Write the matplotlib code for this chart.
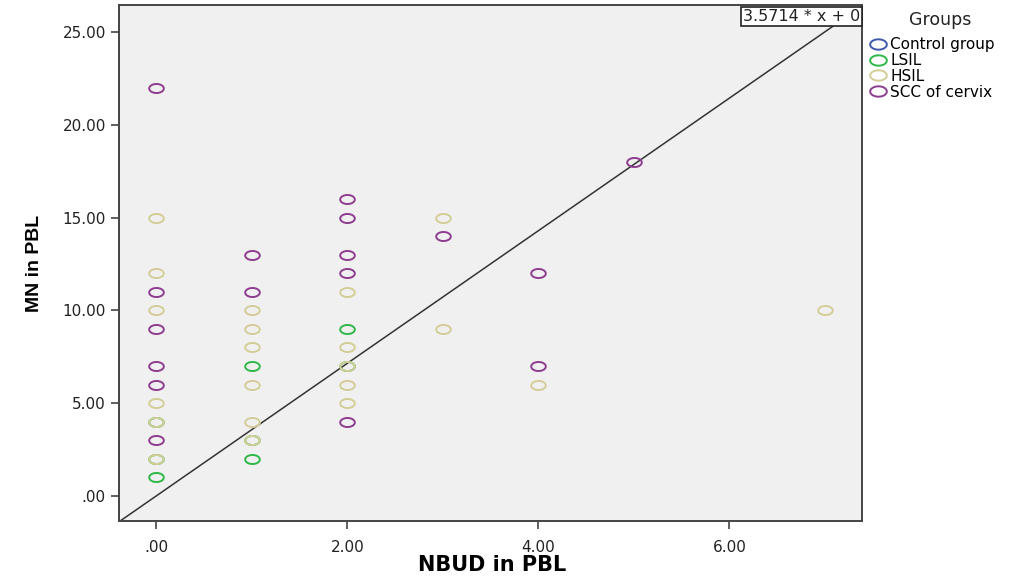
import numpy as np
import matplotlib
matplotlib.use('Agg')
import matplotlib.pyplot as plt
from matplotlib.path import Path
from matplotlib.lines import Line2D

plt.rcParams['font.family'] = ['DejaVu Sans']

groups = ['Control group', 'LSIL', 'HSIL', 'SCC of cervix']
colors = ['#3E58AC', '#2EB848', '#D3CE97', '#8E3C8F']

control_x = []
control_y = []
lsil_x = [0, 0, 0, 1, 1, 1, 2, 2]
lsil_y = [1, 2, 4, 7, 3, 2, 9, 7]
hsil_x = [0, 0, 0, 0, 0, 0, 1, 1, 1, 1, 1, 1, 2, 2, 2, 2, 2, 3, 3, 4, 7]
hsil_y = [15, 12, 10, 5, 4, 2, 10, 9, 8, 6, 4, 3, 11, 8, 7, 6, 5, 15, 9, 6, 10]
scc_x = [0, 0, 0, 0, 0, 0, 1, 1, 2, 2, 2, 2, 2, 3, 4, 4, 5]
scc_y = [22, 11, 9, 7, 6, 3, 13, 11, 16, 15, 13, 12, 4, 14, 12, 7, 18]

slope = 3.5714
xticks = [0, 2, 4, 6]
xtick_labels = ['.00', '2.00', '4.00', '6.00']
yticks = [0, 5, 10, 15, 20, 25]
ytick_labels = ['.00', '5.00', '10.00', '15.00', '20.00', '25.00']

# flattened circle marker (spss output is stretched sideways)
t = np.linspace(0, 2 * np.pi, 60)
ell = Path(np.column_stack([np.cos(t), 0.62 * np.sin(t)]), closed=True)

fig = plt.figure(figsize=(10.19, 5.79), dpi=100)
ax = fig.add_axes([0.1168, 0.1002, 0.7292, 0.8912], facecolor='#F0F0F0')

data = [(control_x, control_y), (lsil_x, lsil_y), (hsil_x, hsil_y), (scc_x, scc_y)]
for (xs, ys), c in zip(data, colors):
    ax.plot(xs, ys, linestyle='none', marker=ell, markersize=10.5,
            markerfacecolor='none', markeredgecolor=c, markeredgewidth=1.4)

ax.axline((0, 0), slope=slope, color='#333333', linewidth=1.1, zorder=1)

ax.set_xlim(-0.39, 7.39)
ax.set_ylim(-1.35, 26.45)
ax.set_xticks(xticks)
ax.set_xticklabels(xtick_labels)
ax.set_yticks(yticks)
ax.set_yticklabels(ytick_labels)
ax.tick_params(axis='both', direction='out', length=6, width=1.2,
               color='#444444', labelsize=11, labelcolor='#222222')
ax.tick_params(axis='x', pad=8)
for s in ax.spines.values():
    s.set_color('#444444')
    s.set_linewidth(1.4)

ax.set_xlabel('NBUD in PBL', fontsize=15, fontweight='bold', va='center')
ax.xaxis.set_label_coords(0.502, -0.085)
ax.set_ylabel('MN in PBL', fontsize=14, fontweight='bold', labelpad=14,
              family=['Liberation Sans', 'DejaVu Sans'])

ax.text(0.997, 0.993, '3.5714 * x + 0', transform=ax.transAxes, ha='right', va='top',
        fontsize=11.5, color='#222222',
        bbox=dict(boxstyle='square,pad=0.12', facecolor='white', edgecolor='#222222', linewidth=1.2))

fig.text(940 / 1019, 1 - 20 / 579, 'Groups', ha='center', va='center', fontsize=12.5,
         color='#222222')
handles = [Line2D([], [], linestyle='none', marker=ell, markersize=12,
                  markerfacecolor='none', markeredgecolor=c, markeredgewidth=1.4)
           for c in colors]
leg = fig.legend(handles, groups, loc='upper left', bbox_to_anchor=(0.851, 0.941),
                 frameon=False, fontsize=11,
                 handlelength=1.0, handletextpad=0.3, labelspacing=0.05,
                 borderaxespad=0, borderpad=0.2)

fig.savefig('out.png', dpi=100)
